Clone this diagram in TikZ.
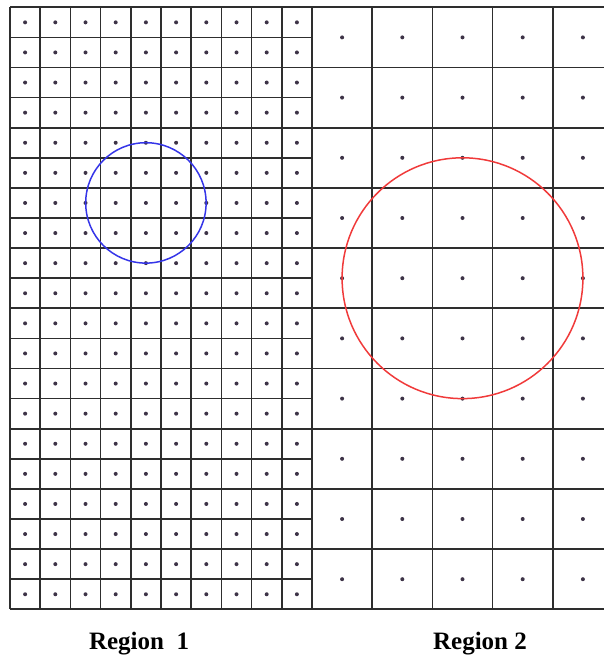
\documentclass[tikz,border=0pt]{standalone}
\usepackage{fontspec}
\setmainfont{Liberation Serif}
\definecolor{gridgray}{HTML}{2E2E2E}
\definecolor{sampledot}{HTML}{3D3347}
\definecolor{fineblue}{HTML}{3535E8}
\definecolor{coarsered}{HTML}{F03A3A}

\tikzset{
  gridline/.style={gridgray, line width=1.7pt},
  regionlabel/.style={font=\bfseries\fontsize{25}{30}\selectfont, anchor=base, inner sep=0pt}
}

\begin{document}
\begin{tikzpicture}[x=1pt, y=-1pt]
  \useasboundingbox (0,0) rectangle (604,657);
  % region 1: fine grid, 10 x 20 cells
  \foreach \i in {0,...,10}
    \draw[gridline] ({10+30.2*\i},7.3) -- ({10+30.2*\i},609.3);
  \foreach \j in {0,...,20}
    \draw[gridline] (10,{7.3+30.1*\j}) -- (312,{7.3+30.1*\j});
  \foreach \i in {0,...,9}
    \foreach \j in {0,...,19}
      \fill[sampledot] ({10+30.2*(\i+0.5)},{7.3+30.1*(\j+0.5)}) circle (2);
  % region 2: coarse grid, cut at the right border
  \foreach \i in {1,...,4}
    \draw[gridline] ({312+60.2*\i},7.3) -- ({312+60.2*\i},609.3);
  \foreach \j in {0,...,10}
    \draw[gridline] (312,{7.3+60.2*\j}) -- (604,{7.3+60.2*\j});
  \foreach \i in {0,...,4}
    \foreach \j in {0,...,9}
      \fill[sampledot] ({312+60.2*(\i+0.5)},{7.3+60.2*(\j+0.5)}) circle (2);
  % neighbourhoods
  \draw[fineblue, line width=1.5pt] (145.9,202.9) circle (60.2);
  \draw[coarsered, line width=1.5pt] (462.5,278.2) circle (120.4);
  % labels
  \node[regionlabel] (label1) at (139,649) {Region\ \ 1};
  \node[regionlabel] (label2) at (480,649) {Region 2};
\end{tikzpicture}
\end{document}
